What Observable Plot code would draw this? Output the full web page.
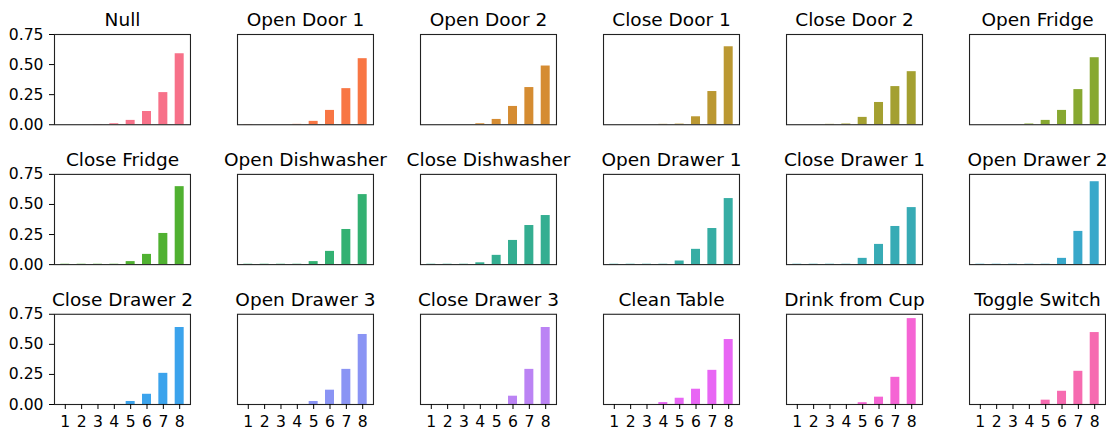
<!DOCTYPE html>
<html>
<head>
<meta charset="utf-8">
<script src="https://cdn.jsdelivr.net/npm/d3@7"></script>
<script src="https://cdn.jsdelivr.net/npm/@observablehq/plot@0.6"></script>
<style>
  html, body { margin: 0; padding: 0; background: #fff; }
  #chart svg { display: block; }
</style>
</head>
<body>
<div id="chart"></div>
<script>
// ---- data ----
const activities = [
  "Null", "Open Door 1", "Open Door 2", "Close Door 1", "Close Door 2", "Open Fridge",
  "Close Fridge", "Open Dishwasher", "Close Dishwasher", "Open Drawer 1", "Close Drawer 1", "Open Drawer 2",
  "Close Drawer 2", "Open Drawer 3", "Close Drawer 3", "Clean Table", "Drink from Cup", "Toggle Switch"
];
const steps = [1, 2, 3, 4, 5, 6, 7, 8];
const values = [
  [0.000, 0.000, 0.002, 0.008, 0.036, 0.110, 0.267, 0.590], // Null
  [0.002, 0.000, 0.000, 0.003, 0.028, 0.119, 0.300, 0.549], // Open Door 1
  [0.000, 0.000, 0.000, 0.008, 0.044, 0.152, 0.309, 0.488], // Open Door 2
  [0.000, 0.000, 0.000, 0.003, 0.005, 0.066, 0.276, 0.648], // Close Door 1
  [0.000, 0.000, 0.003, 0.006, 0.061, 0.185, 0.317, 0.441], // Close Door 2
  [0.000, 0.000, 0.000, 0.006, 0.036, 0.119, 0.292, 0.557], // Open Fridge
  [0.003, 0.003, 0.003, 0.003, 0.025, 0.085, 0.259, 0.648], // Close Fridge
  [0.003, 0.003, 0.003, 0.003, 0.025, 0.110, 0.292, 0.582], // Open Dishwasher
  [0.003, 0.003, 0.003, 0.015, 0.077, 0.201, 0.325, 0.408], // Close Dishwasher
  [0.003, 0.003, 0.003, 0.003, 0.030, 0.127, 0.300, 0.549], // Open Drawer 1
  [0.003, 0.003, 0.003, 0.003, 0.052, 0.168, 0.317, 0.474], // Close Drawer 1
  [0.003, 0.003, 0.003, 0.003, 0.003, 0.052, 0.276, 0.689], // Open Drawer 2
  [0.000, 0.000, 0.000, 0.000, 0.025, 0.085, 0.259, 0.640], // Close Drawer 2
  [0.000, 0.000, 0.000, 0.000, 0.025, 0.119, 0.292, 0.582], // Open Drawer 3
  [0.000, 0.000, 0.000, 0.000, 0.000, 0.069, 0.292, 0.640], // Close Drawer 3
  [0.000, 0.000, 0.000, 0.016, 0.052, 0.127, 0.284, 0.540], // Clean Table
  [0.000, 0.000, 0.000, 0.000, 0.015, 0.061, 0.226, 0.714], // Drink from Cup
  [0.000, 0.000, 0.000, 0.000, 0.036, 0.110, 0.276, 0.598]  // Toggle Switch
];
const yTicks = [0, 0.25, 0.5, 0.75];
const nCols = 6;

// ---- HUSL palette (as seaborn husl_palette) ----
function huslToHex(h, s, l) {
  const m = [[3.2406, -1.5372, -0.4986], [-0.9689, 1.8758, 0.0415], [0.0557, -0.2040, 1.0570]];
  const refU = 0.19784, refV = 0.46834, labE = 0.008856, labK = 903.3;
  let L = l, C;
  const hr = h * Math.PI / 180, sinH = Math.sin(hr), cosH = Math.cos(hr);
  if (L > 99.9999) { L = 100; C = 0; }
  else if (L < 0.00001) { L = 0; C = 0; }
  else {
    const sub1 = Math.pow(L + 16, 3) / 1560896;
    const sub2 = sub1 > labE ? sub1 : L / labK;
    let res = Infinity;
    for (const [m1, m2, m3] of m) {
      const top = (0.99915 * m1 + 1.05122 * m2 + 1.14460 * m3) * sub2;
      const rb = 0.86330 * m3 - 0.17266 * m2;
      const lb = 0.12949 * m3 - 0.38848 * m1;
      const bottom = (rb * sinH + lb * cosH) * sub2;
      for (const t of [0, 1]) {
        const c = L * (top - 1.05122 * t) / (bottom + 0.17266 * sinH * t);
        if (c > 0 && c < res) res = c;
      }
    }
    C = res / 100 * s;
  }
  const U = C * cosH, V = C * sinH;
  let X = 0, Y = 0, Z = 0;
  if (L !== 0) {
    Y = L > 8 ? Math.pow((L + 16) / 116, 3) : L / labK;
    const vU = U / (13 * L) + refU, vV = V / (13 * L) + refV;
    X = -(9 * Y * vU) / ((vU - 4) * vV - vU * vV);
    Z = (9 * Y - 15 * vV * Y - vV * X) / (3 * vV);
  }
  const rgb = m.map(([a, b, c]) => {
    let v = a * X + b * Y + c * Z;
    v = v <= 0.0031308 ? 12.92 * v : 1.055 * Math.pow(v, 1 / 2.4) - 0.055;
    return Math.max(0, Math.min(1, v)) * 255;
  });
  return d3.rgb(rgb[0], rgb[1], rgb[2]).formatHex();
}
const palette = activities.map((_, i) => {
  const hue = ((i / activities.length + 0.01) % 1) * 359;
  return huslToHex(hue, 0.9 * 99, 0.65 * 99);
});

// ---- table ----
const rows = [];
activities.forEach((name, i) => {
  steps.forEach((k, j) => {
    rows.push({name, k, v: values[i][j], col: i % nCols, row: Math.floor(i / nCols)});
  });
});
const titles = activities.map((name, i) => ({name, col: i % nCols, row: Math.floor(i / nCols)}));

const chart = Plot.plot({
  width: 1106,
  height: 430,
  marginLeft: 54,
  marginRight: 1,
  marginTop: 34,
  marginBottom: 26,
  style: {fontFamily: "DejaVu Sans", fontSize: "15.4px", color: "#000", background: "#fff"},
  fx: {axis: null, paddingInner: 0.257, paddingOuter: 0, round: false},
  fy: {axis: null, paddingInner: 0.355, paddingOuter: 0, round: false},
  x: {type: "band", domain: steps, paddingInner: 0.45, paddingOuter: 0.385, round: false},
  y: {domain: [0, 0.75]},
  color: {domain: activities, range: palette},
  marks: [
    Plot.barY(rows, {fx: "col", fy: "row", x: "k", y: "v", fill: "name"}),
    Plot.frame({stroke: "#222", strokeWidth: 1.1}),
    Plot.axisY({ticks: yTicks, tickFormat: d3.format(".2f"), tickSize: 5, tickPadding: 6,
      label: null, facetAnchor: "left", stroke: "#000", fill: "#000", fontSize: 15.6}),
    Plot.axisX({ticks: steps, tickSize: 5, tickPadding: 6, label: null,
      facetAnchor: "bottom", stroke: "#000", fill: "#000", fontSize: 15.6}),
    Plot.text(titles, {fx: "col", fy: "row", text: "name", frameAnchor: "top",
      lineAnchor: "bottom", dy: -8.7, fontSize: 18.5, fill: "#000", fontFamily: "DejaVu Sans"})
  ]
});
document.getElementById("chart").appendChild(chart);
</script>
</body>
</html>
